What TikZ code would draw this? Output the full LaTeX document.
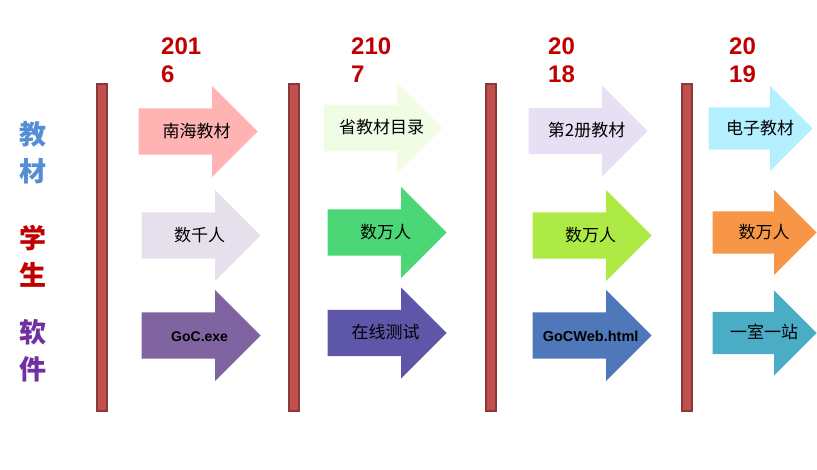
\documentclass[tikz,border=0pt]{standalone}
\usepackage{fontspec}
\setmainfont{Liberation Sans}
\newfontfamily\cjk{Noto Sans CJK SC}
\usetikzlibrary{shapes.arrows,positioning}

\definecolor{barred}{HTML}{C0504D}
\definecolor{bardark}{HTML}{8C3836}
\definecolor{yearred}{HTML}{C00000}
\definecolor{bookblue}{HTML}{558ED5}
\definecolor{softpurple}{HTML}{7030A0}

\definecolor{cPink}{HTML}{FFB3B3}
\definecolor{cLav}{HTML}{E6E0EC}
\definecolor{cPurple}{HTML}{8064A2}
\definecolor{cMint}{HTML}{F1FCE4}
\definecolor{cGreen}{HTML}{4BD775}
\definecolor{cIndigo}{HTML}{5E57A9}
\definecolor{cLilac}{HTML}{E7E0F5}
\definecolor{cLime}{HTML}{AEEA45}
\definecolor{cBlue}{HTML}{4F78BA}
\definecolor{cCyan}{HTML}{B3EFFF}
\definecolor{cOrange}{HTML}{F79646}
\definecolor{cTeal}{HTML}{4BACC6}

\begin{document}
\begin{tikzpicture}[
    x=1pt, y=-1pt,
    bar/.style={
        rectangle, fill=barred, draw=bardark, line width=1.2pt,
        minimum width=10pt, minimum height=327pt, inner sep=0pt
    },
    stage/.style={
        single arrow, inner xsep=0pt, inner ysep=16pt, anchor=tip,
        text height=13pt, text depth=1pt,
        minimum height=119pt, minimum width=91pt,
        single arrow head extend=22.5pt,
        % zero-width text box, nudged towards the head
        execute at begin node={\hbox to 0pt\bgroup\hss\hspace*{20pt}},
        execute at end node={\hss\egroup},
        font=\cjk\fontsize{17}{18}\selectfont
    },
    small stage/.style={
        stage, inner ysep=14pt,
        minimum height=104pt, minimum width=85pt,
        single arrow head extend=21.5pt
    },
    latin/.style={font=\bfseries\fontsize{#1}{16}\selectfont},
    year/.style={
        anchor=north west, align=left, inner sep=0pt, text=yearred,
        font=\bfseries\fontsize{24}{28}\selectfont
    },
    topic/.style={
        align=center, inner sep=0pt,
        font=\cjk\bfseries\fontsize{27}{37}\selectfont
    },
]
  \useasboundingbox (0,0) rectangle (817,470);

  %––– Row headings –––––––––––––––––––––––––––––––––––––––––
  \node (books)    [topic, text=bookblue]   at (33,153) {教\\材};
  \node (students) [topic, text=yearred]    at (33,256) {学\\生};
  \node (software) [topic, text=softpurple] at (33,351) {软\\件};

  %––– Separating bars ––––––––––––––––––––––––––––––––––––––
  \node (bar1) [bar] at (102,247.5) {};
  \node (bar2) [bar] at (294,247.5) {};
  \node (bar3) [bar] at (491,247.5) {};
  \node (bar4) [bar] at (687,247.5) {};

  %––– Years ––––––––––––––––––––––––––––––––––––––––––––––––
  \node (y2016) [year] at (161,38) {201\\6};
  \node (y2017) [year] at (351,38) {210\\7};
  \node (y2018) [year] at (548,38) {20\\18};
  \node (y2019) [year] at (729,38) {20\\19};

  %––– 2016 –––––––––––––––––––––––––––––––––––––––––––––––––
  \node (book16) [stage, fill=cPink]   at (258,131.5) {南海教材};
  \node (user16) [stage, fill=cLav]    at (261,235.5) {数千人};
  \node (soft16) [stage, fill=cPurple, latin=14] at (261,335.5) {GoC.exe};

  %––– 2017 –––––––––––––––––––––––––––––––––––––––––––––––––
  \node (book17) [stage, fill=cMint]   at (443,128) {省教材目录};
  \node (user17) [stage, fill=cGreen]  at (447,232.5) {数万人};
  \node (soft17) [stage, fill=cIndigo] at (447,333) {在线测试};

  %––– 2018 –––––––––––––––––––––––––––––––––––––––––––––––––
  \node (book18) [stage, fill=cLilac] at (648,131) {第2册教材};
  \node (user18) [stage, fill=cLime]  at (652,235.5) {数万人};
  \node (soft18) [stage, fill=cBlue, latin=14.5] at (652,335.5) {GoCWeb.html};

  %––– 2019 –––––––––––––––––––––––––––––––––––––––––––––––––
  \node (book19) [small stage, fill=cCyan]   at (813,128.5) {电子教材};
  \node (user19) [small stage, fill=cOrange] at (817,232.5) {数万人};
  \node (soft19) [small stage, fill=cTeal]   at (817,333) {一室一站};
\end{tikzpicture}
\end{document}
